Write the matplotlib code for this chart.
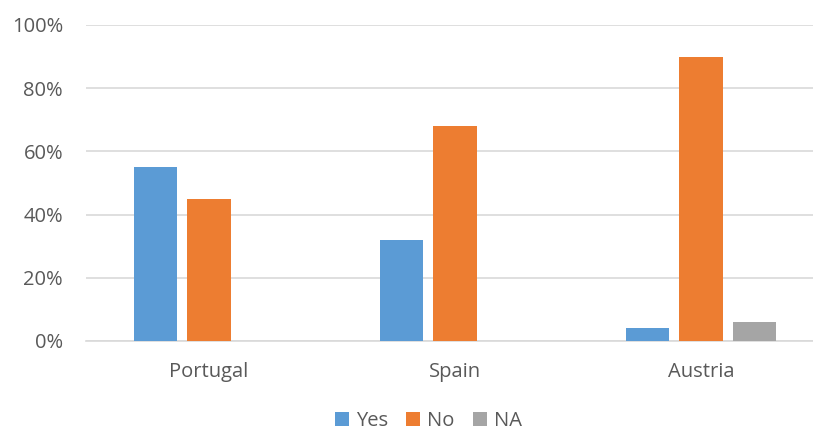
import matplotlib.pyplot as plt
import matplotlib.ticker as tck
import numpy as np

countries = ['Portugal', 'Spain', 'Austria']
series_names = ['Yes', 'No', 'NA']
yes_vals = [55, 32, 4]
no_vals = [45, 68, 90]
na_vals = [0, 0, 6]
colors = ['#5B9BD5', '#ED7D31', '#A5A5A5']

plt.rcParams['font.family'] = ['Open Sans', 'DejaVu Sans']

fig = plt.figure(figsize=(8.13, 4.32), dpi=100)
ax = fig.add_axes([86 / 813, 1 - 341 / 432, 738 / 813, 316 / 432])

x = np.arange(len(countries))
offset = 0.219
width = 0.175
handles = []
for i, vals in enumerate([yes_vals, no_vals, na_vals]):
    h = ax.bar(x + (i - 1) * offset, vals, width, color=colors[i],
               label=series_names[i], zorder=3)
    handles.append(h)

ax.set_xlim(-0.5, 2.5)
ax.set_ylim(0, 100)
ax.yaxis.set_major_locator(tck.MultipleLocator(20))
ax.yaxis.set_major_formatter(tck.FormatStrFormatter('%d%%'))
ax.set_xticks(x)
ax.set_xticklabels(countries)
ax.grid(axis='y', color='#D9D9D9', linewidth=1.2, zorder=0)
for s in ['top', 'right', 'left']:
    ax.spines[s].set_visible(False)
ax.spines['bottom'].set_color('#D9D9D9')
ax.spines['bottom'].set_linewidth(1.2)
ax.tick_params(axis='both', length=0, labelsize=14.5, colors='#595959')
ax.tick_params(axis='x', pad=15)
ax.tick_params(axis='y', pad=16.5)

fig.legend(handles=handles, loc='lower center', bbox_to_anchor=(0.527, 0.0),
           borderaxespad=0.05, borderpad=0.0,
           ncol=3, frameon=False, fontsize=14.5, handlelength=0.7,
           handleheight=0.7, handletextpad=0.35, columnspacing=0.9,
           labelcolor='#595959')

fig.savefig('out.png', dpi=100)
